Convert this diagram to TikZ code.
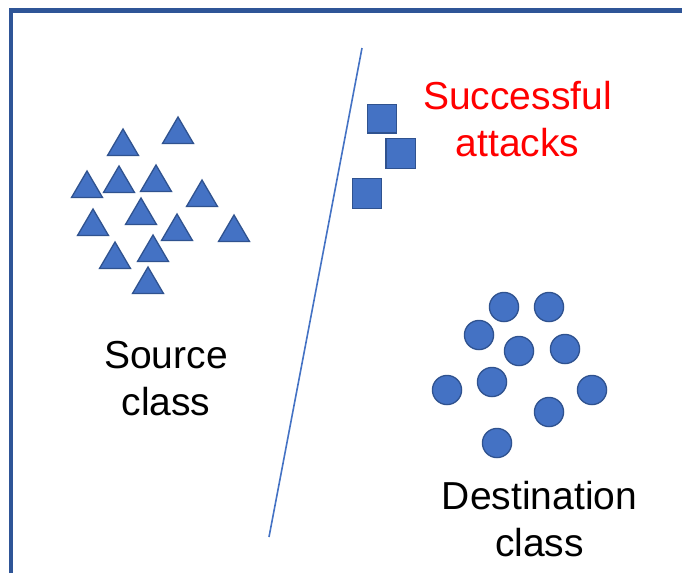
\documentclass[tikz,border=0pt]{standalone}
\usepackage{fontspec}
\setmainfont{Liberation Sans}
\definecolor{fillblue}{HTML}{4472C4}
\definecolor{edgeblue}{HTML}{2F528F}
\definecolor{frameblue}{HTML}{2F5597}
\definecolor{attackred}{HTML}{FF0000}
\begin{document}
\begin{tikzpicture}[x=1pt,y=-1pt,
  marker/.style={fill=fillblue,draw=edgeblue,line width=1.3pt,line join=miter},
  sep/.style={draw=fillblue,line width=1.6pt},
  frame/.style={draw=frameblue,line width=4.6pt},
  lbl/.style={font=\fontsize{39}{47}\selectfont,align=center,inner sep=0pt,anchor=base}]
\useasboundingbox (0,0) rectangle (682,573);
\fill[white] (0,0) rectangle (682,573);
% frame (top and left only)
\draw[frame] (10.8,573) -- (10.8,10.3) -- (682,10.3);
% separating line
\coordinate (sepTop) at (362,48);
\coordinate (sepBot) at (269,537);
\draw[sep] (sepTop) -- (sepBot);
% source class: triangles (apex x, apex y)
\foreach \x/\y in {123/129,178/117,87/171,119/166,156/165,202/180,93/209,141/198,177/214,234/215,115/242,153/235,148/267}
  \filldraw[marker] (\x,\y) -- ++(15.5,26.5) -- ++(-31,0) -- cycle;
% successful attacks: squares
\filldraw[marker] (367.5,104.5) rectangle (396.5,133);
\filldraw[marker] (386,138.5) rectangle (415.5,168.5);
\filldraw[marker] (352.5,178.5) rectangle (381.5,208.5);
% destination class: circles
\foreach \x/\y in {504/307,549/307,479/335,519/351,565/349,492/382,447/390,592/390,549/412,497/443}
  \filldraw[marker] (\x,\y) circle[radius=14.6pt];
% labels (base anchor = baseline of the last line)
\node[lbl,text=attackred] (attacks) at (517.5,156) {Successful\\attacks};
\node[lbl] (source) at (166,415) {Source\\class};
\node[lbl] (dest) at (539.5,556) {Destination\\class};
\end{tikzpicture}
\end{document}
